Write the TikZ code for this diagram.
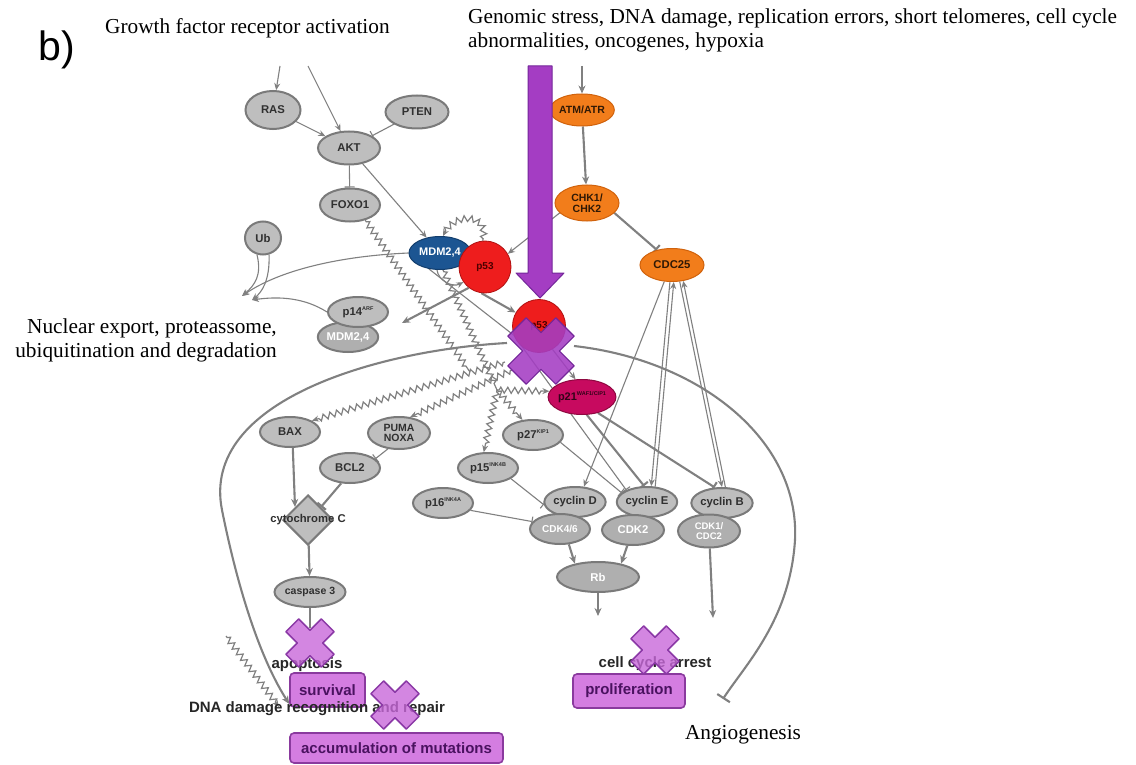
\documentclass[tikz,border=0pt]{standalone}
\usepackage{fontspec}
\setmainfont{Liberation Serif}
\setsansfont{Liberation Sans}
\usetikzlibrary{shapes.geometric,arrows.meta,decorations.pathmorphing,calc}
\pgfdeclarelayer{bg}
\pgfsetlayers{bg,main}
\definecolor{gfill}{HTML}{BEBEBE}
\definecolor{gline}{HTML}{7A7A7A}
\definecolor{gtext}{HTML}{303030}
\definecolor{lgrey}{HTML}{808080}
\definecolor{orfill}{HTML}{F27D1B}
\definecolor{orline}{HTML}{D0620C}
\definecolor{rfill}{HTML}{EE1D1D}
\definecolor{rline}{HTML}{B01010}
\definecolor{bfill}{HTML}{1C5592}
\definecolor{bline}{HTML}{123D6C}
\definecolor{mfill}{HTML}{C70A5F}
\definecolor{mline}{HTML}{8E0840}
\definecolor{pbig}{HTML}{A43DC3}
\definecolor{pbigline}{HTML}{74279A}
\definecolor{pX}{HTML}{C868DA}
\definecolor{pXline}{HTML}{8B39A6}
\definecolor{pbox}{HTML}{D47DE1}
\definecolor{pboxline}{HTML}{8A3A9E}
\definecolor{pboxtext}{HTML}{4A1260}
\newcommand{\sups}[1]{\raisebox{0.8ex}{\fontsize{5.5}{5.5}\selectfont #1}}
\newcommand{\pxcross}[5]{%
  \path[#5,shift={(#1,#2)},rotate=45] (#4,#4) -- (#4,#3) -- (-#4,#3) -- (-#4,#4) -- (-#3,#4) -- (-#3,-#4) -- (-#4,-#4) -- (-#4,-#3) -- (#4,-#3) -- (#4,-#4) -- (#3,-#4) -- (#3,#4) -- cycle;}
\tikzset{
  mol/.style={ellipse, draw=gline, fill=gfill, line width=2pt, inner sep=0pt,
    minimum width=60pt, minimum height=30pt, align=center,
    font=\sffamily\bfseries\fontsize{11.3}{11.5}\selectfont, text=gtext},
  wmol/.style={mol, fill=gfill!92!black, text=white},
  omol/.style={mol, fill=orfill, draw=orline, line width=1pt, text=black!80!orfill},
  outtext/.style={font=\sffamily\bfseries\fontsize{15}{16}\selectfont, text=black!85},
  outbox/.style={draw=pboxline, fill=pbox, line width=1.6pt, rounded corners=4pt,
    font=\sffamily\bfseries\fontsize{15}{16}\selectfont, text=pboxtext, inner sep=0pt},
  serifl/.style={font=\fontsize{21.3}{24}\selectfont},
  conn/.style={draw=lgrey, line width=2.1pt},
  arr/.style={conn, -{Stealth[length=8pt,width=7pt]}},
  inh/.style={conn, -{Bar[width=11pt]}},
  thinl/.style={draw=lgrey, line width=1.1pt},
  tarr/.style={thinl, -{Stealth[length=7pt,width=6pt]}},
  tinh/.style={thinl, -{Bar[width=10pt]}},
  zz/.style={draw=lgrey, line width=1.2pt, decorate,
    decoration={zigzag, segment length=7pt, amplitude=3pt, pre length=2pt, post length=6pt}},
  zzarr/.style={zz, -{Stealth[length=7pt,width=6pt]}},
  crossbig/.style={fill=pbig, draw=pbigline, line width=1.2pt, fill opacity=0.88, line join=round},
  crosssmall/.style={fill=pX, draw=pXline, line width=1.5pt, fill opacity=0.8, line join=round}
}
\begin{document}
\begin{tikzpicture}[x=1pt,y=-1pt]
\useasboundingbox (0,0) rectangle (1136,765);

% ---------- titles ----------
\node[font=\sffamily\fontsize{41}{41}\selectfont] (lab) at (57,50) {b)};
\node[serifl, anchor=west, inner sep=0pt] (gfr) at (105,28) {Growth factor receptor activation};
\node[serifl, anchor=north west, align=left, inner sep=0pt] (gen) at (468,9)
  {Genomic stress, DNA damage, replication errors, short telomeres, cell cycle\\abnormalities, oncogenes, hypoxia};
\node[serifl, anchor=east, align=right, inner sep=0pt] (nuc) at (277,340)
  {Nuclear export, proteassome,\\ubiquitination and degradation};
\node[serifl] (ang) at (743,735) {Angiogenesis};

% ---------- molecules ----------
\node[mol, minimum width=55pt, minimum height=38pt] (ras) at (273,110) {RAS};
\node[mol, minimum width=63pt, minimum height=33pt] (pten) at (417,112) {PTEN};
\node[mol, minimum width=62pt, minimum height=33pt] (akt) at (349,148) {AKT};
\node[mol, minimum width=60pt, minimum height=33pt] (foxo) at (350,205) {FOXO1};
\node[mol, minimum width=36pt, minimum height=33pt] (ub) at (263,238) {Ub};
\node[ellipse, draw=bline, fill=bfill, line width=1pt, minimum width=62pt, minimum height=33pt, inner sep=0pt,
  font=\sffamily\bfseries\fontsize{11}{11}\selectfont, text=white] (mdm) at (440,253) {MDM2,4};
\node[circle, draw=rline, fill=rfill, line width=0.8pt, minimum size=52pt, inner sep=0pt,
  font=\sffamily\bfseries\fontsize{10}{10}\selectfont, text=black!70!red] (p53a) at (485,267) {p53};
\node[omol, minimum width=62pt, minimum height=32pt, font=\sffamily\bfseries\fontsize{10.5}{11}\selectfont] (atm) at (582,110) {ATM/ATR};
\node[omol, minimum width=64pt, minimum height=36pt, font=\sffamily\bfseries\fontsize{10.5}{11}\selectfont] (chk) at (587,203) {CHK1/\\CHK2};
\node[omol, minimum width=64pt, minimum height=33pt] (cdc) at (672,265) {CDC25};
\node[wmol] (mdmg) at (348,337) {MDM2,4};
\node[mol] (p14) at (358,312) {p14\sups{ARF}};
\node[mol] (bax) at (290,432) {BAX};
\node[mol, minimum width=62pt, minimum height=32pt, font=\sffamily\bfseries\fontsize{10.5}{10.5}\selectfont] (puma) at (399,433) {PUMA\\NOXA};
\node[mol] (bcl) at (350,468) {BCL2};
\node[diamond, draw=gline, fill=gfill, line width=2pt, minimum width=50pt, minimum height=50pt, inner sep=0pt] (cyt) at (308,520) {};
\node[font=\sffamily\bfseries\fontsize{11.3}{11.5}\selectfont, text=gtext] (cyttxt) at (cyt) {cytochrome C};
\node[mol, font=\sffamily\bfseries\fontsize{10.5}{11}\selectfont] (casp) at (310,592) {caspase 3};
\node[mol] (p27) at (533,435) {p27\sups{KIP1}};
\node[mol] (p15) at (488,468) {p15\sups{INK4B}};
\node[mol] (p16) at (443,503) {p16\sups{INK4A}};
\node[mol, minimum width=56pt] (cycD) at (575,502) {cyclin D};
\node[wmol, font=\sffamily\bfseries\fontsize{10}{10}\selectfont] (cdk46) at (560,529) {CDK4/6};
\node[mol, minimum width=56pt] (cycE) at (647,502) {cyclin E};
\node[wmol, minimum width=62pt] (cdk2) at (633,530) {CDK2};
\node[mol, minimum width=56pt] (cycB) at (722,503) {cyclin B};
\node[wmol, minimum width=62pt, minimum height=33pt, font=\sffamily\bfseries\fontsize{9.5}{10}\selectfont] (cdk1) at (709,531) {CDK1/\\CDC2};
\node[wmol, minimum width=82pt] (rb) at (598,577) {Rb};

% big purple arrow (stress signal -> p53)
\path[fill=pbig, draw=pbigline, line width=1pt, line join=round]
  (528,66) -- (552,66) -- (552,273) -- (564,273) -- (540,298) -- (516,273) -- (528,273) -- cycle;

% lower p53 with big cross
\node[circle, draw=rline, fill=rfill, line width=0.8pt, minimum size=53pt, inner sep=0pt,
  font=\sffamily\bfseries\fontsize{10}{10}\selectfont, text=black!70!red] (p53b) at (539,326) {p53};
\pxcross{541}{351}{34}{13}{crossbig}
\node[ellipse, draw=mline, fill=mfill, line width=1pt, minimum width=62pt, minimum height=35pt, inner sep=0pt,
  font=\sffamily\bfseries\fontsize{11}{11}\selectfont, text=black!75!mfill] (p21) at (582,397) {p21\sups{WAF1/CIP1}};

% ---------- outcomes ----------
\node[outtext] (apo) at (307,665) {apoptosis};
\node[outbox, minimum width=75pt, minimum height=34pt] (surv) at (327.5,690) {survival};
\node[outtext] (dna) at (317,709) {DNA damage recognition and repair};
\node[outbox, minimum width=213pt, minimum height=30pt] (acc) at (396.5,748) {accumulation of mutations};
\node[outtext] (cca) at (655,664) {cell cycle arrest};
\node[outbox, minimum width=112pt, minimum height=34pt] (prol) at (629,691) {proliferation};
\pxcross{310}{643}{25}{9}{crosssmall}
\pxcross{395}{705}{25}{9}{crosssmall}
\pxcross{655}{650}{25}{9}{crosssmall}

% ---------- free ends ----------
\coordinate (gf1) at (280,66);
\coordinate (gf2) at (308,66);
\coordinate (gs) at (582,66);
\coordinate (exp1) at (242,296);
\coordinate (exp2) at (252,300);
\coordinate (deg) at (402,323);
\coordinate (xl) at (507,343);
\coordinate (xr) at (574,346);
\coordinate (zs1) at (505,362);
\coordinate (zs2) at (512,370);
\coordinate (zt1) at (470,372);
\coordinate (zt2) at (497,390);
\coordinate (ap) at (310,628);
\coordinate (ccA) at (598,616);
\coordinate (ccB) at (713,618);
\coordinate (angio) at (723,699);
\coordinate (zl1) at (226,636);
\coordinate (zl2) at (279,707);

% ---------- connectors ----------
\begin{pgfonlayer}{bg}
\fill[white] (0,0) rectangle (1136,765);
\draw[tarr] (gf1) -- (ras);
\draw[tarr] (gf2) -- (akt);
\draw[tarr] (ras) -- (akt);
\draw[tinh] (pten) -- (akt);
\draw[tinh] (akt) -- (foxo);
\draw[tarr] (akt) -- (mdm);
\draw[arr] (gs) -- (atm);
\draw[arr] (atm) -- (chk);
\draw[tarr] (chk.200) -- (p53a.30);
\draw[inh] (chk.-20) -- (cdc.135);
\draw[zzarr] (p53a.95) .. controls (490,212) and (452,212) .. (mdm.80);
\draw[tarr] (mdm.west) .. controls (340,256) and (280,270) .. (exp1);
\draw[tarr] (ub.-110) .. controls (262,275) and (255,285) .. (exp1);
\draw[tarr] (ub.-70) .. controls (270,280) and (262,292) .. (exp2);
\draw[tarr] (p14.west) .. controls (305,298) and (280,296) .. (exp2);
\draw[tarr] (mdm.-100) .. controls (438,280) and (452,288) .. (p53a.215);
\draw[arr] (p53a.232) -- (deg);
\draw[arr] (p53a.262) -- (p53b.150);
\draw[thinl] (mdm.235) -- (p53b.200);
\draw[tinh] (p53b.200) -- (cycE.150);
\draw[zz] (foxo.-45) -- (zt1);
\draw[zz] (mdm.-80) -- (zt2);
\draw[zzarr] (zt2) -- (p15.105);
\draw[zzarr] (zt2) -- (p27.125);
\draw[zzarr] (zt2) -- (p21.170);
\draw[zzarr] (zs1) -- (bax.north east);
\draw[zzarr] (zs2) -- (puma.55);
\draw[tarr] (p53b.-60) -- (p21.110);
\draw[tinh] (p27.-15) -- (cycE.160);
\draw[inh] (p21.-75) -- (cycE.100);
\draw[inh] (p21.-45) -- (cycB.115);
\draw[tarr] (cdc.245) -- (cycD.60);
\draw[tarr] (cdc.263) -- (cycE.75);
\draw[tarr] (cycE.62) -- (cdc.276);
\draw[tarr] (cdc.295) -- (cycB.90);
\draw[tarr] (cycB.78) -- (cdc.305);
\draw[tinh] (p15.-25) -- (cycD.185);
\draw[tinh] (p16.-15) -- (cdk46.165);
\draw[arr] (cdk46.-60) -- (rb.150);
\draw[arr] (cdk2.-110) -- (rb.30);
\draw[arr] (rb) -- (ccA);
\draw[arr] (cdk1) -- (ccB);
\draw[arr] (bax.-80) -- (cyt.north west);
\draw[inh] (bcl.-120) -- (cyt.north east);
\draw[tinh] (puma.-125) -- (bcl.20);
\draw[arr] (cyt) -- (casp);
\draw[conn] (casp) -- (ap);
\draw[conn, -{Stealth[length=8pt,width=7pt]}] (xl) .. controls (380,350) and (200,400) .. (222,510)
   .. controls (234,570) and (255,650) .. (surv.200);
\draw[conn, -{Bar[width=15pt]}] (xr) .. controls (700,360) and (800,440) .. (795,540)
   .. controls (790,620) and (745,665) .. (angio);
\draw[zzarr] (zl1) -- (zl2);
\end{pgfonlayer}
\end{tikzpicture}
\end{document}
